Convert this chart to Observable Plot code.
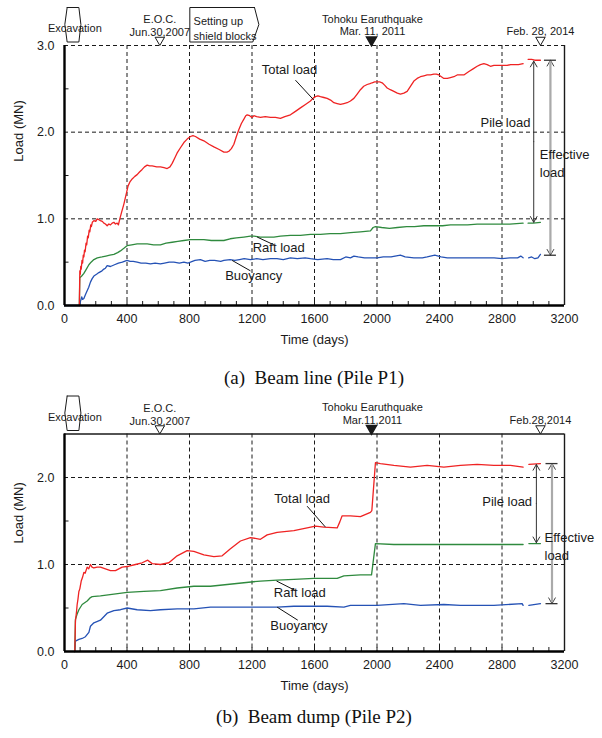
<!DOCTYPE html>
<html>
<head>
<meta charset="utf-8">
<script src="https://cdn.jsdelivr.net/npm/d3@7"></script>
<script src="https://cdn.jsdelivr.net/npm/@observablehq/plot@0.6"></script>
<style>
  body { margin: 0; background: #fff; }
  #root { width: 602px; }
  .cap {
    width: 602px; box-sizing: border-box; padding-left: 26px;
    display: flex; align-items: center; justify-content: center;
    font-family: "Liberation Serif", "Times New Roman", serif;
    font-size: 19px; color: #111; white-space: pre;
  }
  svg { display: block; }
</style>
</head>
<body>
<div id="root"></div>
<script>
// ---- axes ----
const xTicks = [0, 400, 800, 1200, 1600, 2000, 2400, 2800, 3200];
const xGrid = [400, 800, 1200, 1600, 2000, 2400, 2800];
const xMinor = d3.range(100, 3200, 100);
const p1YTicks = [0, 1, 2, 3];
const p2YTicks = [0, 1, 2];

// ---- events (days) ----
const excavationSpan = [0, 105];
const eocDay = 610;
const shieldSpan = [802, 1216];
const quakeDay = 1965;
const lastDay = 3046;

// ---- Pile P1 (beam line): [day, load MN]; null marks a gap in the record ----
const p1Total = [[95,0],[98,0.40],[101,0.36],[104,0.45],[107,0.42],[112,0.52],[116,0.49],[120,0.58],[124,0.56],[128,0.64],[132,0.62],[138,0.72],[142,0.70],[148,0.80],[152,0.78],[158,0.87],[162,0.85],[168,0.93],[172,0.91],[178,0.96],[188,0.98],[200,0.97],[209,1.00],[220,0.99],[230,0.98],[242,0.97],[252,0.95],[262,0.94],[273,0.92],[284,0.94],[294,0.93],[305,0.95],[316,0.96],[326,0.94],[337,0.95],[345,0.93],[354,1.00],[366,1.08],[380,1.17],[393,1.27],[407,1.38],[420,1.43],[433,1.46],[450,1.49],[465,1.51],[480,1.54],[497,1.57],[512,1.60],[529,1.62],[545,1.61],[561,1.61],[590,1.60],[614,1.60],[637,1.59],[657,1.58],[675,1.60],[689,1.64],[705,1.70],[721,1.76],[742,1.82],[764,1.88],[785,1.92],[806,1.95],[822,1.96],[838,1.95],[865,1.92],[892,1.90],[925,1.86],[956,1.83],[990,1.80],[1020,1.77],[1040,1.77],[1052,1.78],[1068,1.81],[1084,1.86],[1100,1.95],[1116,2.03],[1132,2.10],[1148,2.15],[1160,2.19],[1169,2.20],[1185,2.19],[1200,2.17],[1212,2.19],[1230,2.18],[1254,2.17],[1285,2.18],[1318,2.17],[1350,2.17],[1382,2.16],[1410,2.18],[1446,2.20],[1478,2.24],[1510,2.28],[1542,2.32],[1574,2.36],[1590,2.39],[1606,2.41],[1622,2.42],[1638,2.41],[1660,2.40],[1681,2.39],[1703,2.37],[1724,2.34],[1745,2.33],[1766,2.32],[1788,2.33],[1809,2.34],[1830,2.36],[1852,2.39],[1873,2.44],[1894,2.49],[1915,2.53],[1937,2.55],[1955,2.56],[1969,2.57],[1985,2.58],[2001,2.58],[2017,2.58],[2033,2.57],[2050,2.54],[2065,2.51],[2085,2.49],[2108,2.47],[2130,2.45],[2150,2.44],[2172,2.45],[2193,2.47],[2215,2.53],[2236,2.59],[2257,2.62],[2278,2.64],[2300,2.65],[2321,2.66],[2342,2.66],[2364,2.67],[2380,2.67],[2396,2.66],[2412,2.64],[2428,2.62],[2450,2.62],[2470,2.63],[2492,2.64],[2513,2.66],[2535,2.66],[2556,2.66],[2572,2.68],[2588,2.70],[2615,2.73],[2641,2.76],[2662,2.78],[2684,2.79],[2705,2.78],[2726,2.76],[2748,2.77],[2769,2.77],[2800,2.77],[2833,2.77],[2855,2.78],[2876,2.78],[2905,2.78],[2935,2.79],[2950,null],[2967,2.84],[2990,2.84],[3010,2.83],[3046,2.83]];
const p1Raft = [[95,0],[98,0.32],[110,0.34],[124,0.37],[140,0.42],[156,0.47],[170,0.50],[188,0.53],[210,0.55],[240,0.56],[265,0.57],[290,0.58],[316,0.59],[340,0.61],[358,0.63],[380,0.66],[400,0.69],[430,0.70],[465,0.71],[500,0.71],[529,0.71],[570,0.70],[614,0.70],[650,0.72],[689,0.73],[725,0.74],[764,0.75],[806,0.76],[850,0.76],[892,0.76],[940,0.75],[980,0.75],[1020,0.75],[1060,0.77],[1100,0.78],[1148,0.79],[1190,0.80],[1212,0.80],[1254,0.79],[1300,0.79],[1340,0.79],[1382,0.80],[1446,0.81],[1510,0.81],[1574,0.82],[1638,0.82],[1700,0.83],[1766,0.83],[1830,0.84],[1894,0.85],[1958,0.86],[1975,0.90],[1990,0.91],[2030,0.90],[2080,0.89],[2130,0.90],[2190,0.91],[2240,0.91],[2300,0.92],[2360,0.92],[2420,0.92],[2470,0.93],[2530,0.93],[2580,0.93],[2641,0.94],[2700,0.94],[2770,0.94],[2850,0.94],[2935,0.95],[2950,null],[2967,0.95],[3000,0.95],[3046,0.96]];
const p1Buoyancy = [[0,0],[95,0],[98,0.02],[104,0.06],[110,0.10],[116,0.07],[124,0.08],[135,0.13],[145,0.17],[155,0.21],[166,0.27],[177,0.31],[188,0.34],[205,0.36],[220,0.38],[240,0.40],[252,0.42],[262,0.43],[273,0.46],[294,0.45],[320,0.47],[345,0.49],[370,0.50],[400,0.52],[420,0.51],[440,0.51],[465,0.50],[490,0.49],[520,0.49],[550,0.48],[580,0.49],[614,0.48],[640,0.49],[670,0.50],[700,0.50],[735,0.49],[764,0.50],[790,0.49],[806,0.50],[835,0.52],[870,0.53],[900,0.51],[930,0.52],[960,0.52],[1000,0.51],[1020,0.52],[1060,0.53],[1090,0.52],[1120,0.53],[1150,0.54],[1190,0.53],[1230,0.54],[1270,0.53],[1318,0.54],[1360,0.54],[1400,0.53],[1446,0.55],[1490,0.54],[1540,0.55],[1574,0.54],[1620,0.53],[1681,0.54],[1720,0.53],[1766,0.53],[1800,0.56],[1830,0.55],[1852,0.57],[1880,0.56],[1920,0.55],[1960,0.55],[2001,0.55],[2040,0.56],[2090,0.56],[2150,0.58],[2180,0.56],[2236,0.55],[2290,0.55],[2321,0.56],[2370,0.58],[2410,0.56],[2450,0.55],[2500,0.55],[2556,0.55],[2600,0.55],[2660,0.55],[2700,0.55],[2750,0.55],[2800,0.54],[2850,0.55],[2900,0.55],[2920,0.57],[2935,0.55],[2950,null],[2970,0.55],[2990,0.56],[3010,0.54],[3030,0.55],[3046,0.59]];

// ---- Pile P2 (beam dump) ----
const p2Total = [[66,0],[70,0.35],[77,0.46],[81,0.54],[86,0.60],[92,0.69],[98,0.72],[107,0.81],[115,0.85],[124,0.91],[132,0.90],[145,0.97],[155,0.95],[166,1.00],[176,0.97],[188,0.96],[209,0.97],[230,0.97],[262,0.95],[294,0.93],[326,0.93],[369,0.97],[412,0.98],[454,1.00],[497,1.02],[533,1.05],[561,1.01],[614,1.00],[668,1.02],[721,1.10],[785,1.16],[828,1.15],[892,1.11],[956,1.09],[1009,1.10],[1062,1.18],[1126,1.27],[1190,1.31],[1254,1.29],[1297,1.34],[1361,1.37],[1468,1.39],[1553,1.42],[1606,1.44],[1660,1.43],[1745,1.42],[1762,1.49],[1777,1.56],[1830,1.56],[1894,1.55],[1958,1.60],[1967,1.62],[1990,2.17],[2022,2.16],[2108,2.14],[2214,2.12],[2321,2.14],[2428,2.12],[2534,2.14],[2641,2.15],[2748,2.14],[2854,2.14],[2935,2.12],[2950,null],[2972,2.15],[3046,2.16]];
const p2Raft = [[66,0],[70,0.37],[81,0.43],[92,0.48],[113,0.54],[145,0.58],[166,0.62],[177,0.63],[230,0.64],[316,0.66],[401,0.68],[508,0.69],[614,0.70],[721,0.73],[828,0.75],[934,0.75],[1041,0.77],[1148,0.79],[1254,0.81],[1361,0.82],[1468,0.83],[1596,0.84],[1745,0.84],[1788,0.87],[1894,0.88],[1965,0.88],[1990,1.24],[2108,1.23],[2300,1.23],[2500,1.23],[2700,1.23],[2935,1.23],[2950,null],[2972,1.24],[3046,1.24]];
const p2Buoyancy = [[66,0],[70,0.12],[92,0.14],[113,0.15],[134,0.17],[156,0.22],[166,0.29],[188,0.33],[230,0.36],[273,0.44],[316,0.47],[358,0.48],[401,0.50],[465,0.48],[550,0.47],[614,0.48],[721,0.49],[828,0.49],[934,0.51],[1041,0.51],[1148,0.51],[1254,0.51],[1361,0.51],[1468,0.52],[1574,0.52],[1681,0.52],[1788,0.51],[1830,0.53],[2001,0.53],[2172,0.55],[2278,0.53],[2428,0.54],[2534,0.53],[2748,0.53],[2929,0.55],[2935,0.53],[2950,null],[2972,0.53],[3046,0.55]];

const seriesNames = ["Total load", "Raft load", "Buoyancy"];

const RED = "#ef2323", GREEN = "#2f8a3e", BLUE = "#2552b5";
const INK = "#1a1a1a";
const FONT = "'Liberation Sans', Arial, sans-serif";
const DAYS_PER_PX = 3200 / 500;

function seriesLine(data, color) {
  return Plot.line(data, {x: d => d[0], y: d => d[1], stroke: color, strokeWidth: 1.3});
}

function panel(o) {
  const plotH = o.height - o.marginTop - o.marginBottom;
  const unit = plotH / o.yMax;          // px per MN
  const up = px => o.yMax + px / unit;  // value lying px above the frame
  const span = px => px / unit;
  const dash = {stroke: INK, strokeWidth: 1, strokeDasharray: "4,3"};
  const small = {fontSize: 11, fill: INK};

  const hexagon = [
    [excavationSpan[0] + 17, up(38)], [excavationSpan[1] - 13, up(38)], [excavationSpan[1], up(21)],
    [excavationSpan[1] - 13, up(3.5)], [excavationSpan[0] + 17, up(3.5)], [excavationSpan[0] + 2, up(21)],
    [excavationSpan[0] + 17, up(38)]
  ];
  const shield = [
    [shieldSpan[1], up(38)], [shieldSpan[0], up(38)], [shieldSpan[0], up(3.5)],
    [shieldSpan[1] - 11, up(3.5)], [shieldSpan[1] + 28, up(21)], [shieldSpan[1], up(38)]
  ];

  const pa = o.pileArrow, ea = o.effArrow;
  const pMid = (pa.top + pa.bottom) / 2, eMid = (ea.top + ea.bottom) / 2;

  const marks = [
    // grid
    Plot.ruleX(xGrid, dash),
    Plot.ruleY(o.yGrid, dash),
    // inward minor ticks
    Plot.ruleX(xMinor, {y1: 0, y2: span(4), stroke: INK, strokeWidth: 1}),
    Plot.ruleY(o.yMinor, {x1: 0, x2: 4.5 * DAYS_PER_PX, stroke: INK, strokeWidth: 1}),
    // records
    seriesLine(o.buoy, BLUE),
    seriesLine(o.raft, GREEN),
    seriesLine(o.total, RED),
    // frame
    Plot.ruleX([3200], {stroke: INK, strokeWidth: 1.4}),
    ...(o.topSolid ? [Plot.ruleY([o.yMax], {stroke: INK, strokeWidth: 1.4})] : []),
    Plot.ruleX([0], {stroke: "#000", strokeWidth: 2.4}),
    Plot.ruleY([0], {stroke: "#000", strokeWidth: 2.4}),
    // tick labels and axis titles
    Plot.text(xTicks, {x: d => d, text: d => String(d), frameAnchor: "bottom", dy: 17, fontSize: 12.5, fill: INK}),
    Plot.text(o.yTicks, {y: d => d, text: d => d.toFixed(1), frameAnchor: "left", dx: -10, textAnchor: "end", fontSize: 12.5, fill: INK}),
    Plot.text(["Time (days)"], {x: 1600, text: d => d, frameAnchor: "bottom", dy: 38, fontSize: 13, fill: INK}),
    Plot.text(["Load (MN)"], {y: o.yLabelAt, text: d => d, frameAnchor: "left", dx: -46, rotate: -90, fontSize: 13, fill: INK}),
    // series labels with leaders
    Plot.link(o.leaders, {x1: d => d[0], y1: d => d[1], x2: d => d[2], y2: d => d[3], stroke: "#111", strokeWidth: 1}),
    Plot.text(o.labels, {x: d => d.x, y: d => d.y, text: (d, i) => seriesNames[i], textAnchor: d => d.anchor, fontSize: 13, fill: INK}),
    // pile / effective load arrows
    Plot.arrow([{y1: pMid, y2: pa.top}, {y1: pMid, y2: pa.bottom}], {x1: pa.x, x2: pa.x, y1: "y1", y2: "y2", stroke: "#333", strokeWidth: 1, headLength: 10, headAngle: 60}),
    Plot.arrow([{y1: eMid, y2: ea.top}, {y1: eMid, y2: ea.bottom}], {x1: ea.x, x2: ea.x, y1: "y1", y2: "y2", stroke: "#444", strokeWidth: 1, headLength: 10, headAngle: 60}),
    Plot.ruleX([ea.x], {y1: ea.top - span(1), y2: ea.bottom + span(1), stroke: "#aaa", strokeWidth: 2.2}),
    Plot.ruleY([ea.top, ea.bottom], {x1: ea.x - 6 * DAYS_PER_PX, x2: ea.x + 6 * DAYS_PER_PX, stroke: "#333", strokeWidth: 1.3}),
    Plot.text(["Pile load"], {x: o.pileText.x, y: o.pileText.y, text: d => d, fontSize: 13, fill: INK}),
    Plot.text(["Effective", "load"], {x: o.effText.x, y: (d, i) => o.effText.y[i], text: d => d, textAnchor: "start", fontSize: 13, fill: INK}),
    // excavation period above the frame
    Plot.line(hexagon, {x: d => d[0], y: d => d[1], stroke: INK, strokeWidth: 1}),
    Plot.text(["Excavation"], {x: (excavationSpan[0] + excavationSpan[1]) / 2 + 14, text: d => d, frameAnchor: "top", dy: -21, ...small})
  ];

  // two-line event labels
  const eventLabels = [
    {x: eocDay, t: o.eocText[0], dy: -30}, {x: eocDay, t: o.eocText[1], dy: -17},
    {x: quakeDay + 6, t: o.quakeText[0], dy: -30.5}, {x: quakeDay + 6, t: o.quakeText[1], dy: -18},
    {x: lastDay, t: o.endText, dy: -18}
  ];
  for (const e of eventLabels) {
    marks.push(Plot.text([e.t], {x: e.x, text: d => d, frameAnchor: "top", dy: e.dy, ...small}));
  }
  marks.push(Plot.dot([eocDay, lastDay], {x: d => d, y: up(5.5), symbol: "triangle", rotate: 180, r: 3.5, stroke: INK, strokeWidth: 1, fill: "white"}));
  marks.push(Plot.dot([quakeDay], {x: d => d, y: up(5.5), symbol: "triangle", rotate: 180, r: 3.7, stroke: INK, fill: INK}));
  if (o.shield) {
    marks.push(Plot.line(shield, {x: d => d[0], y: d => d[1], stroke: INK, strokeWidth: 1}));
    marks.push(Plot.text(["Setting up"], {x: shieldSpan[0] + 24, text: d => d, frameAnchor: "top", dy: -28, textAnchor: "start", ...small}));
    marks.push(Plot.text(["shield blocks"], {x: shieldSpan[0] + 24, text: d => d, frameAnchor: "top", dy: -13, textAnchor: "start", ...small}));
  }

  return Plot.plot({
    width: 602,
    height: o.height,
    marginTop: o.marginTop,
    marginBottom: o.marginBottom,
    marginLeft: 64,
    marginRight: 38,
    x: {domain: [0, 3200], axis: null},
    y: {domain: [0, o.yMax], axis: null},
    style: {fontFamily: FONT, background: "white", color: INK, overflow: "visible"},
    marks
  });
}

const root = document.getElementById("root");

root.append(panel({
  height: 355, marginTop: 45, marginBottom: 50,
  yMax: 3, yTicks: p1YTicks, yGrid: [1, 2, 3], yMinor: [0.5, 1.5, 2.5], topSolid: false,
  total: p1Total, raft: p1Raft, buoy: p1Buoyancy,
  yLabelAt: 1.66,
  labels: [{x: 1440, y: 2.72, anchor: "middle"}, {x: 1371, y: 0.67, anchor: "start"}, {x: 1211, y: 0.34, anchor: "start"}],
  leaders: [[1478, 2.60, 1596, 2.37], [1233, 0.79, 1340, 0.70], [1073, 0.52, 1190, 0.40]],
  pileArrow: {x: 3003, top: 2.82, bottom: 0.96},
  effArrow: {x: 3110, top: 2.83, bottom: 0.58},
  pileText: {x: 2822, y: 2.11},
  effText: {x: 3042, y: [1.74, 1.53]},
  eocText: ["E.O.C.", "Jun.30,2007"],
  quakeText: ["Tohoku Earuthquake", "Mar. 11, 2011"],
  endText: "Feb. 28, 2014",
  shield: true
}));

const capA = document.createElement("div");
capA.className = "cap";
capA.style.height = "40px";
capA.style.paddingTop = "6px";
capA.textContent = "(a)  Beam line (Pile P1)";
root.append(capA);

root.append(panel({
  height: 306, marginTop: 38.5, marginBottom: 50,
  yMax: 2.5, yTicks: p2YTicks, yGrid: [1, 2], yMinor: [0.5, 1.5], topSolid: true,
  total: p2Total, raft: p2Raft, buoy: p2Buoyancy,
  yLabelAt: 1.24,
  labels: [{x: 1521, y: 1.76, anchor: "middle"}, {x: 1506, y: 0.67, anchor: "start"}, {x: 1500, y: 0.29, anchor: "start"}],
  leaders: [[1553, 1.67, 1670, 1.43], [1357, 0.81, 1478, 0.70], [1361, 0.51, 1493, 0.36]],
  pileArrow: {x: 3020, top: 2.15, bottom: 1.25},
  effArrow: {x: 3120, top: 2.16, bottom: 0.55},
  pileText: {x: 2833, y: 1.72},
  effText: {x: 3072, y: [1.31, 1.10]},
  eocText: ["E.O.C.", "Jun.30,2007"],
  quakeText: ["Tohoku Earuthquake", "Mar.11,2011"],
  endText: "Feb.28,2014",
  shield: false
}));

const capB = document.createElement("div");
capB.className = "cap";
capB.style.height = "37px";
capB.style.paddingBottom = "5px";
capB.textContent = "(b)  Beam dump (Pile P2)";
root.append(capB);
</script>
</body>
</html>
